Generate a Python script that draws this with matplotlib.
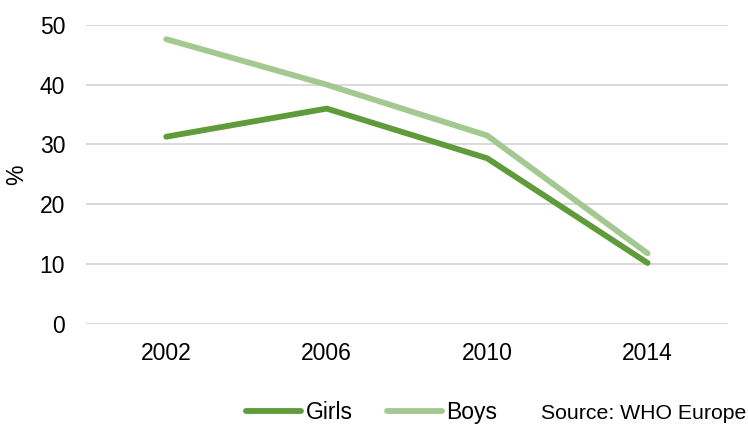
import matplotlib
matplotlib.use("Agg")
import matplotlib.pyplot as plt
from matplotlib.lines import Line2D

plt.rcParams["font.family"] = ["Liberation Sans", "DejaVu Sans"]

# Data
years = ["2002", "2006", "2010", "2014"]
girls = [31.3, 36.0, 27.7, 10.2]
boys = [47.6, 40.0, 31.5, 11.8]

DARK_GREEN = "#5F9B3B"
LIGHT_GREEN = "#A3C991"
GRID = "#D9D9D9"
TEXT = "#000000"
LW = 4.2

fig = plt.figure(figsize=(7.48, 4.28), dpi=100)
ax = fig.add_axes([0.115, 0.243, 0.858, 0.699])

x = range(len(years))
ax.plot(x, girls, color=DARK_GREEN, linewidth=LW, solid_capstyle="round",
        solid_joinstyle="round", label="Girls", zorder=3)
ax.plot(x, boys, color=LIGHT_GREEN, linewidth=LW, solid_capstyle="round",
        solid_joinstyle="round", label="Boys", zorder=3)

ax.set_xlim(-0.5, len(years) - 0.5)
ax.set_ylim(0, 50)
ax.set_yticks(range(0, 51, 10))
ax.set_xticks(list(x))
ax.set_xticklabels(years)
ax.yaxis.grid(True, color=GRID, linewidth=1.4)
ax.set_axisbelow(True)
for s in ax.spines.values():
    s.set_visible(False)
ax.tick_params(length=0, labelsize=16.5, colors=TEXT)
ax.tick_params(axis="x", pad=13)
ax.tick_params(axis="y", pad=15)
ax.set_ylabel("%", fontsize=16.5, color=TEXT, labelpad=8)

handles = [Line2D([], [], color=DARK_GREEN, linewidth=LW, solid_capstyle="round"),
           Line2D([], [], color=LIGHT_GREEN, linewidth=LW, solid_capstyle="round")]
fig.legend(handles, ["Girls", "Boys"], loc="center", bbox_to_anchor=(0.497, 0.037),
           ncol=2, frameon=False, fontsize=16.5, handlelength=2.4, handletextpad=0.2,
           columnspacing=1.5)

fig.text(0.998, 0.033, "Source: WHO Europe", ha="right", va="center",
         fontsize=15.3, color=TEXT)

fig.savefig("out.png", dpi=100, facecolor="white")
